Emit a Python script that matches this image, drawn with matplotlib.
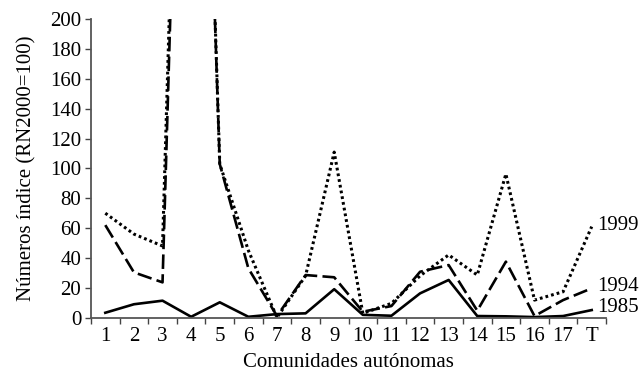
import numpy as np
import matplotlib
matplotlib.use("Agg")
import matplotlib.pyplot as plt

# Comunidades autónomas (1-17) y total (T)
categorias = ["1", "2", "3", "4", "5", "6", "7", "8", "9", "10",
              "11", "12", "13", "14", "15", "16", "17", "T"]
v1985 = [3.2, 8.9, 11.3, 0.5, 10.2, 0.5, 2.3, 2.8, 19, 1.8,
         1.2, 16.2, 25.2, 1.0, 0.8, 0.3, 1.0, 5.0]
v1994 = [62, 30.3, 23.6, 680, 103, 33, 1.0, 28.5, 27, 3.9,
         7.7, 30.7, 35.2, 4.6, 37.5, 1.0, 11.7, 19.6]
v1999 = [70, 56, 48, 700, 103, 45, 0.0, 28, 111, 2.8,
         9.5, 28, 42, 28.5, 96.3, 11.7, 17.3, 61]

plt.rcParams["font.family"] = ["Liberation Serif", "DejaVu Serif"]
fs = 15

fig = plt.figure(figsize=(6.39, 3.74), dpi=100)
ax = fig.add_axes([0.1424, 0.151, 0.806, 0.797])

x = np.arange(1, len(categorias) + 1)
ax.plot(x, v1985, color="black", lw=1.9, ls="-")
ax.plot(x, v1994, color="black", lw=1.9, ls=(0, (5.5, 2.0)))
ax.plot(x, v1999, color="black", lw=2.2, ls=(0, (0.9, 1.0)))

ax.set_xlim(0.5, len(categorias) + 0.5)
ax.set_ylim(0, 200)
ax.set_yticks(range(0, 201, 20))
ax.set_xticks(x)
ax.set_xticklabels(categorias)
ax.set_xticks(np.arange(0.5, len(categorias) + 1, 1), minor=True)
ax.tick_params(axis="x", which="major", length=0, labelsize=fs, pad=7)
ax.tick_params(axis="x", which="minor", length=4, width=1, color="#444444", direction="out")
ax.tick_params(axis="y", labelsize=fs, length=4, width=1, color="#444444", pad=3)

for s in ["top", "right"]:
    ax.spines[s].set_visible(False)
for s in ["left", "bottom"]:
    ax.spines[s].set_color("#555555")
    ax.spines[s].set_linewidth(1.3)

ax.set_xlabel("Comunidades autónomas", fontsize=fs, labelpad=5)
ax.set_ylabel("Números índice (RN2000=100)", fontsize=fs, labelpad=10)

ax.text(18.2, 62, "1999", fontsize=fs, va="center", ha="left", clip_on=False)
ax.text(18.2, 20.7, "1994", fontsize=fs, va="center", ha="left", clip_on=False)
ax.text(18.2, 6.4, "1985", fontsize=fs, va="center", ha="left", clip_on=False)

fig.savefig("out.png", dpi=100)
